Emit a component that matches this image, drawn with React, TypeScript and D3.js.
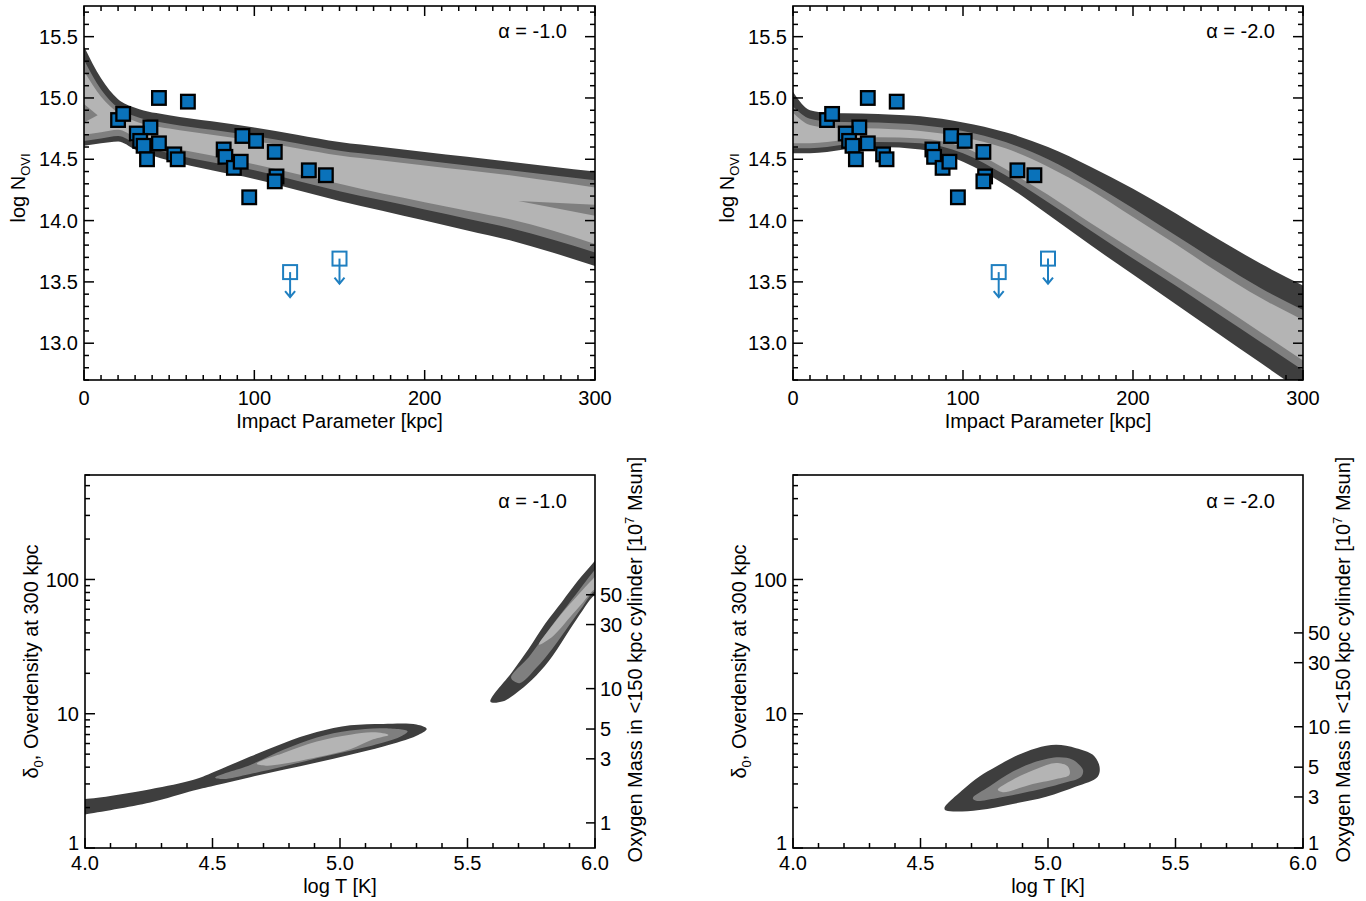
import React from "react";
import * as d3 from "d3";

const FONT = "'Liberation Sans', Arial, Helvetica, sans-serif";
const DARK = "#3e3e3e";
const MID = "#7f7f7f";
const LIGHT = "#b4b4b4";
const BLUE = "#0a72ba";
const BLUE_OPEN = "#1f7fc0";

// ---------- Top panels: model bands (log N_OVI vs impact parameter) ----------
const impactKpc = [0, 10, 20, 30, 50, 75, 100, 125, 150, 175, 200, 225, 250, 275, 300];

// alpha = -1.0
const a1UpperDark = [15.42, 15.16, 14.99, 14.92, 14.86, 14.81, 14.76, 14.7, 14.64, 14.6, 14.56, 14.52, 14.48, 14.44, 14.4];
const a1UpperMid = [15.31, 15.07, 14.92, 14.85, 14.79, 14.74, 14.69, 14.63, 14.57, 14.53, 14.49, 14.45, 14.41, 14.37, 14.33];
const a1UpperLight = [15.22, 15.01, 14.88, 14.81, 14.75, 14.7, 14.65, 14.59, 14.53, 14.49, 14.45, 14.41, 14.37, 14.32, 14.27];
const a1LowerLight = [14.7, 14.72, 14.74, 14.68, 14.6, 14.53, 14.46, 14.38, 14.3, 14.22, 14.15, 14.08, 14.01, 13.92, 13.81];
const a1LowerMid = [14.65, 14.67, 14.69, 14.63, 14.55, 14.475, 14.41, 14.325, 14.24, 14.165, 14.09, 14.015, 13.94, 13.845, 13.74];
const a1LowerDark = [14.61, 14.63, 14.645, 14.58, 14.49, 14.41, 14.34, 14.25, 14.16, 14.08, 14.0, 13.92, 13.84, 13.74, 13.63];
const a1Streaks: [number, number][][] = [
  [[255, 14.16], [300, 14.13], [300, 14.04]],
  [[0, 14.95], [8, 14.86], [0, 14.8]],
];

// alpha = -2.0
const a2UpperDark = [15.05, 14.9, 14.88, 14.875, 14.87, 14.85, 14.8, 14.72, 14.6, 14.44, 14.26, 14.06, 13.85, 13.65, 13.47];
const a2UpperMid = [14.93, 14.83, 14.81, 14.805, 14.8, 14.78, 14.73, 14.64, 14.5, 14.31, 14.1, 13.88, 13.66, 13.45, 13.27];
const a2UpperLight = [14.88, 14.78, 14.76, 14.755, 14.75, 14.73, 14.68, 14.59, 14.44, 14.25, 14.03, 13.81, 13.58, 13.37, 13.19];
const a2LowerLight = [14.63, 14.63, 14.64, 14.66, 14.68, 14.67, 14.6, 14.42, 14.21, 13.98, 13.76, 13.54, 13.32, 13.09, 12.86];
const a2LowerMid = [14.59, 14.59, 14.6, 14.62, 14.64, 14.63, 14.55, 14.37, 14.15, 13.92, 13.69, 13.47, 13.24, 13.01, 12.78];
const a2LowerDark = [14.55, 14.55, 14.56, 14.58, 14.6, 14.58, 14.48, 14.29, 14.05, 13.8, 13.56, 13.32, 13.08, 12.84, 12.6];

// Observations
const obsImpact = [44, 61, 20, 23, 39, 31, 33, 35, 44, 37, 53, 55, 82, 83, 88, 92, 93, 101, 112, 113, 112, 97, 132, 142];
const obsLogN = [15.0, 14.97, 14.82, 14.87, 14.76, 14.71, 14.65, 14.61, 14.63, 14.5, 14.54, 14.5, 14.58, 14.52, 14.43, 14.48, 14.69, 14.65, 14.56, 14.36, 14.32, 14.19, 14.41, 14.37];
const limImpact = [121, 150];
const limLogN = [13.58, 13.69];

const xTicksTop = [0, 100, 200, 300];
const yTicksTop = [13.0, 13.5, 14.0, 14.5, 15.0, 15.5];

// ---------- Bottom panels: contours (overdensity vs log T) ----------
const c1DarkA: [number, number][] = [
  [3.96, 2.36], [4.0, 2.32], [4.256, 2.74], [4.426, 3.22], [4.517, 3.76], [4.648, 4.8], [4.778, 6.04], [4.909, 7.3], [5.04, 8.2], [5.17, 8.4], [5.3, 8.3], [5.34, 7.7],
  [5.3, 6.85], [5.17, 5.7], [5.04, 4.94], [4.909, 4.33], [4.778, 3.82], [4.648, 3.37], [4.517, 2.95], [4.426, 2.68], [4.256, 2.18], [4.0, 1.78], [3.96, 1.74],
];
const c1MidA: [number, number][] = [
  [4.51, 3.35], [4.648, 4.16], [4.778, 5.39], [4.909, 6.66], [5.04, 7.5], [5.17, 7.8], [5.265, 7.4],
  [5.24, 6.8], [5.17, 6.1], [5.04, 5.3], [4.909, 4.67], [4.778, 4.04], [4.648, 3.56], [4.543, 3.26],
];
const c1LightA: [number, number][] = [
  [4.674, 4.24], [4.778, 5.09], [4.909, 6.21], [5.04, 6.97], [5.13, 7.27], [5.19, 6.95],
  [5.13, 6.45], [5.04, 5.45], [4.909, 4.75], [4.778, 4.24], [4.71, 4.1],
];
const c1DarkB: [number, number][] = [
  [5.59, 12.3], [5.675, 20.5], [5.74, 30.5], [5.805, 47], [5.87, 68], [5.935, 99], [5.99, 131], [6.04, 168],
  [6.04, 86], [5.99, 74], [5.952, 59], [5.9, 42], [5.835, 27.2], [5.769, 19.2], [5.704, 14.9], [5.64, 12.4],
];
const c1MidB: [number, number][] = [
  [5.671, 18.5], [5.743, 26.8], [5.809, 40], [5.874, 58], [5.939, 84], [5.99, 112], [6.04, 145],
  [6.04, 90], [5.99, 79.4], [5.952, 63], [5.9, 46], [5.835, 30.9], [5.769, 21.9], [5.704, 16.9],
];
const c1LightB: [number, number][] = [
  [5.78, 32.7], [5.835, 46], [5.9, 65], [5.952, 84], [5.99, 100], [6.04, 125],
  [6.04, 95], [5.99, 81.9], [5.952, 67], [5.9, 51.8], [5.835, 37.8],
];
const c2Dark: [number, number][] = [
  [4.594, 1.98], [4.666, 2.71], [4.731, 3.41], [4.797, 4.04], [4.875, 4.86], [4.954, 5.54], [5.032, 5.87], [5.11, 5.54], [5.176, 4.94], [5.202, 4.04],
  [5.195, 3.4], [5.11, 2.87], [4.993, 2.41], [4.862, 2.13], [4.731, 1.92], [4.64, 1.87], [4.6, 1.9],
];
const c2Mid: [number, number][] = [
  [4.705, 2.35], [4.77, 2.87], [4.862, 3.71], [4.954, 4.4], [5.045, 4.75], [5.097, 4.54], [5.137, 3.82],
  [5.13, 3.4], [5.058, 3.04], [4.927, 2.63], [4.797, 2.35], [4.718, 2.25],
];
const c2Light: [number, number][] = [
  [4.803, 2.71], [4.862, 3.22], [4.954, 3.87], [5.032, 4.29], [5.078, 4.04], [5.084, 3.51],
  [5.032, 3.26], [4.927, 2.95], [4.823, 2.6],
];

const xTicksBottom = [4.0, 4.5, 5.0, 5.5, 6.0];
const yTicksBottom = [1, 10, 100];
const massTicks = [1, 3, 5, 10, 30, 50];
const massPerDelta1 = 0.65;
const massPerDelta2 = 1.25;

const FS = 20;

type Band = { upper: number[]; lower: number[]; color: string };

function TopPanel(props: {
  id: string; left: number; top: number; width: number; height: number;
  bands: Band[]; streaks: [number, number][][]; label: string;
}) {
  const { id, left, top, width, height, bands, streaks, label } = props;
  const x = d3.scaleLinear().domain([0, 300]).range([left, left + width]);
  const y = d3.scaleLinear().domain([12.7, 15.75]).range([top + height, top]);
  const bottom = top + height;
  const right = left + width;
  const idx = impactKpc.map((_, i) => i);
  const xMinor = x.ticks(30);
  const yMinor = y.ticks(30);
  const poly = d3.line<[number, number]>().x((d) => x(d[0])).y((d) => y(d[1]));
  return (
    <g>
      <defs>
        <clipPath id={id}>
          <rect x={left} y={top} width={width} height={height} />
        </clipPath>
      </defs>
      <g clipPath={`url(#${id})`}>
        {bands.map((b, k) => {
          const area = d3
            .area<number>()
            .x((i) => x(impactKpc[i]))
            .y0((i) => y(b.lower[i]))
            .y1((i) => y(b.upper[i]))
            .curve(d3.curveMonotoneX);
          return <path key={k} d={area(idx) || ""} fill={b.color} />;
        })}
        {streaks.map((s, k) => (
          <path key={"s" + k} d={(poly(s) || "") + "Z"} fill={MID} />
        ))}
      </g>
      <rect x={left} y={top} width={width} height={height} fill="none" stroke="#000" strokeWidth={1.6} />
      {xMinor.map((t) => {
        const major = xTicksTop.includes(t);
        const L = major ? 10 : 5;
        return (
          <g key={"xt" + t}>
            <line x1={x(t)} x2={x(t)} y1={bottom} y2={bottom - L} stroke="#000" strokeWidth={1.5} />
            <line x1={x(t)} x2={x(t)} y1={top} y2={top + L} stroke="#000" strokeWidth={1.5} />
          </g>
        );
      })}
      {yMinor.map((t) => {
        const major = yTicksTop.some((v) => Math.abs(v - t) < 1e-6);
        const L = major ? 10 : 5;
        return (
          <g key={"yt" + t}>
            <line x1={left} x2={left + L} y1={y(t)} y2={y(t)} stroke="#000" strokeWidth={1.5} />
            <line x1={right} x2={right - L} y1={y(t)} y2={y(t)} stroke="#000" strokeWidth={1.5} />
          </g>
        );
      })}
      {xTicksTop.map((t) => (
        <text key={"xl" + t} x={x(t)} y={bottom + 25} textAnchor="middle" fontSize={FS} fontFamily={FONT}>
          {t}
        </text>
      ))}
      {yTicksTop.map((t) => (
        <text key={"yl" + t} x={left - 6} y={y(t)} dy="0.36em" textAnchor="end" fontSize={FS} fontFamily={FONT}>
          {d3.format(".1f")(t)}
        </text>
      ))}
      <text x={left + width / 2} y={bottom + 48} textAnchor="middle" fontSize={FS} fontFamily={FONT}>
        Impact Parameter [kpc]
      </text>
      <text transform={`translate(${left - 59},${top + 182}) rotate(-90)`} textAnchor="middle" fontSize={FS} fontFamily={FONT}>
        log N<tspan fontSize={13} dy={5}>OVI</tspan>
      </text>
      <text x={right - 28} y={top + 32} textAnchor="end" fontSize={FS} fontFamily={FONT}>
        {label}
      </text>
      {obsImpact.map((b, i) => (
        <rect key={"o" + i} x={x(b) - 6.8} y={y(obsLogN[i]) - 6.8} width={13.6} height={13.6} fill={BLUE} stroke="#000" strokeWidth={2.3} />
      ))}
      {limImpact.map((b, i) => {
        const cx = x(b);
        const cy = y(limLogN[i]);
        return (
          <g key={"l" + i} stroke={BLUE_OPEN} strokeWidth={2} fill="none">
            <rect x={cx - 7} y={cy - 7} width={14} height={14} />
            <line x1={cx} x2={cx} y1={cy} y2={cy + 25} />
            <polyline points={`${cx - 5},${cy + 19} ${cx},${cy + 25} ${cx + 5},${cy + 19}`} />
          </g>
        );
      })}
    </g>
  );
}

function BottomPanel(props: {
  id: string; left: number; top: number; width: number; height: number;
  contours: { pts: [number, number][]; color: string }[]; label: string; massPerDelta: number;
}) {
  const { id, left, top, width, height, contours, label, massPerDelta } = props;
  const x = d3.scaleLinear().domain([4.0, 6.0]).range([left, left + width]);
  const y = d3.scaleLog().domain([1, 600]).range([top + height, top]);
  const yMass = d3.scaleLog().domain([1 * massPerDelta, 600 * massPerDelta]).range([top + height, top]).clamp(true);
  const bottom = top + height;
  const right = left + width;
  const line = d3
    .line<[number, number]>()
    .x((d) => x(d[0]))
    .y((d) => y(d[1]))
    .curve(d3.curveCatmullRomClosed.alpha(0.5));
  const xMinor = x.ticks(20);
  const yMinor = y.ticks();
  return (
    <g>
      <defs>
        <clipPath id={id}>
          <rect x={left} y={top} width={width} height={height} />
        </clipPath>
      </defs>
      <g clipPath={`url(#${id})`}>
        {contours.map((c, k) => (
          <path key={k} d={line(c.pts) || ""} fill={c.color} />
        ))}
      </g>
      <rect x={left} y={top} width={width} height={height} fill="none" stroke="#000" strokeWidth={1.6} />
      {xMinor.map((t) => {
        const major = xTicksBottom.some((v) => Math.abs(v - t) < 1e-6);
        const L = major ? 10 : 5;
        return <line key={"xt" + t} x1={x(t)} x2={x(t)} y1={bottom} y2={bottom - L} stroke="#000" strokeWidth={1.5} />;
      })}
      {yMinor.map((t) => {
        const major = yTicksBottom.includes(t);
        const L = major ? 10 : 5;
        return <line key={"yt" + t} x1={left} x2={left + L} y1={y(t)} y2={y(t)} stroke="#000" strokeWidth={1.5} />;
      })}
      {massTicks.map((t) => (
        <line key={"mt" + t} x1={right} x2={right - 9} y1={yMass(t)} y2={yMass(t)} stroke="#000" strokeWidth={1.5} />
      ))}
      {xTicksBottom.map((t) => (
        <text key={"xl" + t} x={x(t)} y={bottom + 22} textAnchor="middle" fontSize={FS} fontFamily={FONT}>
          {d3.format(".1f")(t)}
        </text>
      ))}
      {yTicksBottom.map((t) => (
        <text key={"yl" + t} x={left - 6} y={y(t) - (t === 1 ? 5 : 0)} dy="0.36em" textAnchor="end" fontSize={FS} fontFamily={FONT}>
          {t}
        </text>
      ))}
      {massTicks.map((t) => (
        <text key={"ml" + t} x={right + 5} y={yMass(t) - (yMass(t) >= bottom - 0.5 ? 5 : 0)} dy="0.36em" textAnchor="start" fontSize={FS} fontFamily={FONT}>
          {t}
        </text>
      ))}
      <text x={left + width / 2} y={bottom + 45} textAnchor="middle" fontSize={FS} fontFamily={FONT}>
        log T [K]
      </text>
      <text transform={`translate(${left - 47},${top + height / 2}) rotate(-90)`} textAnchor="middle" fontSize={FS} fontFamily={FONT}>
        δ<tspan fontSize={13} dy={5}>0</tspan>
        <tspan dy={-5}>, Overdensity at 300 kpc</tspan>
      </text>
      <text transform={`translate(${right + 47},${top + height / 2 - 2}) rotate(-90)`} textAnchor="middle" fontSize={FS} fontFamily={FONT}>
        Oxygen Mass in &lt;150 kpc cylinder [10<tspan fontSize={13} dy={-8}>7</tspan>
        <tspan dy={8}> Msun]</tspan>
      </text>
      <text x={right - 28} y={top + 33} textAnchor="end" fontSize={FS} fontFamily={FONT}>
        {label}
      </text>
    </g>
  );
}

export default function App() {
  const bands1: Band[] = [
    { upper: a1UpperDark, lower: a1LowerDark, color: DARK },
    { upper: a1UpperMid, lower: a1LowerMid, color: MID },
    { upper: a1UpperLight, lower: a1LowerLight, color: LIGHT },
  ];
  const bands2: Band[] = [
    { upper: a2UpperDark, lower: a2LowerDark, color: DARK },
    { upper: a2UpperMid, lower: a2LowerMid, color: MID },
    { upper: a2UpperLight, lower: a2LowerLight, color: LIGHT },
  ];
  return (
    <svg width={1366} height={901} style={{ position: "absolute", left: 0, top: 0, background: "#fff" }}>
      <rect x={0} y={0} width={1366} height={901} fill="#fff" />
      <TopPanel id="clipTL" left={84} top={6} width={511} height={374} bands={bands1} streaks={a1Streaks} label="α = -1.0" />
      <TopPanel id="clipTR" left={793} top={6} width={510} height={374} bands={bands2} streaks={[]} label="α = -2.0" />
      <BottomPanel
        id="clipBL" left={85} top={475} width={510} height={373} label="α = -1.0" massPerDelta={massPerDelta1}
        contours={[
          { pts: c1DarkA, color: DARK }, { pts: c1MidA, color: MID }, { pts: c1LightA, color: LIGHT },
          { pts: c1DarkB, color: DARK }, { pts: c1MidB, color: MID }, { pts: c1LightB, color: LIGHT },
        ]}
      />
      <BottomPanel
        id="clipBR" left={793} top={475} width={510} height={373} label="α = -2.0" massPerDelta={massPerDelta2}
        contours={[{ pts: c2Dark, color: DARK }, { pts: c2Mid, color: MID }, { pts: c2Light, color: LIGHT }]}
      />
    </svg>
  );
}
